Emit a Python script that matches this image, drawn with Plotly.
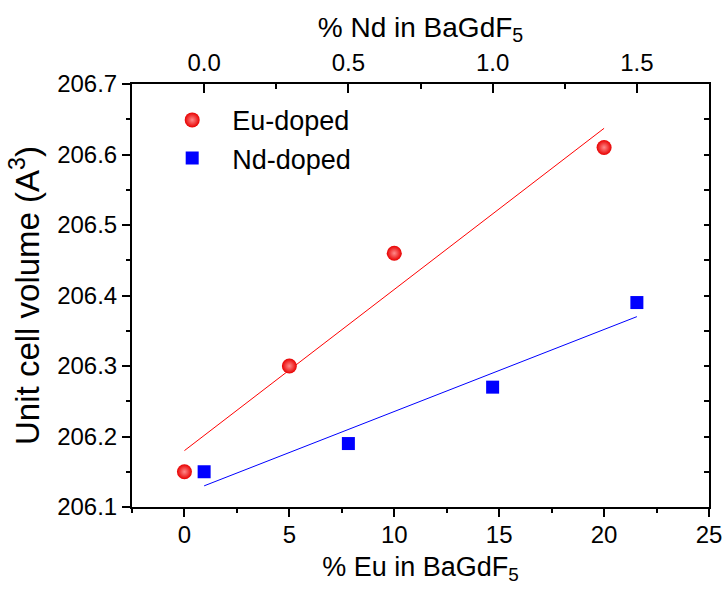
import numpy as np
import plotly.graph_objects as go

# Data
eu_x = [0, 5, 10, 20]                      # % Eu in BaGdF5
eu_y = [206.15, 206.30, 206.46, 206.61]     # unit cell volume
nd_x = [0.0, 0.5, 1.0, 1.5]                 # % Nd in BaGdF5
nd_y = [206.15, 206.19, 206.27, 206.39]

# Linear fits
eu_fit = np.polyfit(eu_x, eu_y, 1)
nd_fit = np.polyfit(nd_x, nd_y, 1)
eu_fx = [min(eu_x), max(eu_x)]
nd_fx = [min(nd_x), max(nd_x)]

FONT = "Liberation Sans, Arial, sans-serif"

fig = go.Figure()
fig.add_trace(go.Scatter(
    x=eu_fx, y=list(np.polyval(eu_fit, eu_fx)), mode="lines",
    line=dict(color="#ff0000", width=1), showlegend=False, hoverinfo="skip",
    xaxis="x", yaxis="y"))
fig.add_trace(go.Scatter(
    x=nd_fx, y=list(np.polyval(nd_fit, nd_fx)), mode="lines",
    line=dict(color="#0000ff", width=1), showlegend=False, hoverinfo="skip",
    xaxis="x2", yaxis="y2"))
fig.add_trace(go.Scatter(
    x=eu_x, y=eu_y, mode="markers", name="Eu-doped",
    marker=dict(symbol="circle", size=15, color="#e80000",
                gradient=dict(type="radial", color="#ff8a8a"),
                line=dict(width=0)),
    xaxis="x", yaxis="y"))
fig.add_trace(go.Scatter(
    x=nd_x, y=nd_y, mode="markers", name="Nd-doped",
    marker=dict(symbol="square", size=13, color="#0000ff", line=dict(width=0)),
    xaxis="x2", yaxis="y2"))

common = dict(showline=True, linewidth=2, linecolor="black", showgrid=False,
              zeroline=False, tickcolor="black", tickwidth=2, automargin=False,
              tickfont=dict(family=FONT, size=24, color="black"))

fig.update_layout(
    width=727, height=595,
    margin=dict(l=132, r=18, t=84, b=88),
    paper_bgcolor="white", plot_bgcolor="white",
    font=dict(family=FONT, color="black"),
    xaxis=dict(range=[-2.5, 25], dtick=5, ticks="outside", ticklen=8,
               minor=dict(dtick=2.5, ticks="outside", ticklen=4, tickwidth=2, tickcolor="black"),
               title=dict(text="% Eu in BaGdF<sub>5</sub>", font=dict(family=FONT, size=27),
                          standoff=10),
               ticklabelstandoff=-3,
               **common),
    xaxis2=dict(range=[-0.25, 1.75], dtick=0.5, tickformat=".1f", ticks="inside",
                ticklen=9, side="top", overlaying="x", anchor="y2",
                minor=dict(dtick=0.25, ticks="inside", ticklen=5, tickwidth=2, tickcolor="black"),
                title=dict(text="% Nd in BaGdF<sub>5</sub>", font=dict(family=FONT, size=28),
                           standoff=4),
                ticklabelstandoff=1,
                **common),
    yaxis=dict(range=[206.1, 206.7], dtick=0.1, tickformat=".1f", ticks="outside", ticklen=8,
               minor=dict(dtick=0.05, ticks="outside", ticklen=4, tickwidth=2, tickcolor="black"),
               title=dict(text="Unit cell volume (A<sup>3</sup>)", font=dict(family=FONT, size=33),
                          standoff=8),
               ticklabelstandoff=0,
               **common),
    yaxis2=dict(range=[206.1, 206.7], dtick=0.1, ticks="inside", ticklen=5,
                showticklabels=False, side="right", overlaying="y", anchor="x",
                minor=dict(dtick=0.05, ticks="inside", ticklen=5, tickwidth=2, tickcolor="black"),
                **{k: v for k, v in common.items() if k != "tickfont"}),
    legend=dict(x=0.035, y=0.972, xanchor="left", yanchor="top",
                bgcolor="rgba(0,0,0,0)", borderwidth=0, itemwidth=70,
                font=dict(family=FONT, size=27, color="black"), tracegroupgap=0),
    showlegend=True,
)

fig.write_html("out.html")
